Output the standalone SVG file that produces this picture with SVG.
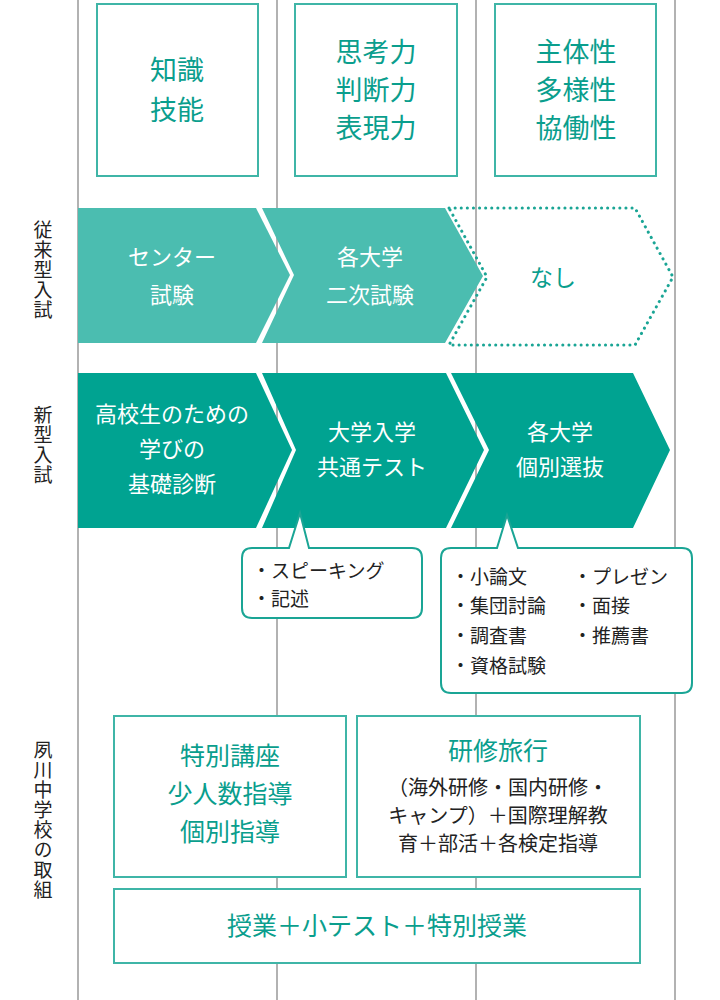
<svg xmlns="http://www.w3.org/2000/svg" width="720" height="1000" viewBox="0 0 720 1000">
<style>
text{font-family:"Noto Sans CJK JP","Noto Sans",sans-serif}
.vl{stroke:#999;stroke-width:1.5}
.box{fill:#fff;stroke:#3fb5a7;stroke-width:2}
.tt{fill:#0a9e8d;font-size:27px;text-anchor:middle}
.wt{fill:#fff;font-size:22px;text-anchor:middle}
.side{fill:#222;font-size:19px;writing-mode:vertical-rl;letter-spacing:1px}
.bl{fill:#222;font-size:19px}
.bt{fill:#0a9e8d;font-size:25px;text-anchor:middle}
.old{fill:#4bbdb0}
.new{fill:#00a391}
.co{fill:#fff;stroke:#1aa595;stroke-width:2}
</style>
<g id="gridlines">
<line class="vl" x1="78" y1="0" x2="78" y2="1000"/>
<line class="vl" x1="277" y1="0" x2="277" y2="1000"/>
<line class="vl" x1="476" y1="0" x2="476" y2="1000"/>
<line class="vl" x1="675" y1="0" x2="675" y2="1000"/>
</g>
<g id="head1"><rect class="box" x="97" y="4" width="161" height="172"/><text class="tt" x="177" y="80">知識</text><text class="tt" x="177" y="120">技能</text></g>
<g id="head2"><rect class="box" x="295" y="4" width="162" height="172"/><text class="tt" x="376" y="62">思考力</text><text class="tt" x="376" y="100">判断力</text><text class="tt" x="376" y="138">表現力</text></g>
<g id="head3"><rect class="box" x="495" y="4" width="161" height="172"/><text class="tt" x="576" y="62">主体性</text><text class="tt" x="576" y="100">多様性</text><text class="tt" x="576" y="138">協働性</text></g>
<g id="side-labels">
<text class="side" x="43" y="220">従来型入試</text>
<text class="side" x="43" y="405">新型入試</text>
<text class="side" x="43" y="740">夙川中学校の取組</text>
</g>
<g id="old1"><polygon class="old" points="78,208 256,208 290,275 256,343 78,343"/><text class="wt" x="172" y="265">センター</text><text class="wt" x="172" y="303">試験</text></g>
<g id="old2"><polygon class="old" points="262,208 445,208 483,276 445,343 262,343 294,275"/><text class="wt" x="370" y="265">各大学</text><text class="wt" x="370" y="303">二次試験</text></g>
<g id="old3"><polygon points="449,208 635,208 673,277 635,345 449,345 487,277" fill="none" stroke="#1aa595" stroke-width="3" stroke-dasharray="0.1 6" stroke-linecap="round"/><text x="553" y="286" fill="#0a9e8d" font-size="23" text-anchor="middle">なし</text></g>
<g id="new1"><polygon class="new" points="78,373 256,373 292,450 256,528 78,528"/><text class="wt" x="172" y="422">高校生のための</text><text class="wt" x="172" y="457">学びの</text><text class="wt" x="172" y="492">基礎診断</text></g>
<g id="new2"><polygon class="new" points="262,373 446,373 484,450 446,528 262,528 296,450"/><text class="wt" x="372" y="440">大学入学</text><text class="wt" x="372" y="475">共通テスト</text></g>
<g id="new3"><polygon class="new" points="451,373 633,373 670,450 633,528 451,528 489,450"/><text class="wt" x="560" y="440">各大学</text><text class="wt" x="560" y="475">個別選抜</text></g>
<g id="callout1"><path class="co" d="M252,548 H289 L300,513 L309,548 H412 Q422,548 422,558 V608 Q422,618 412,618 H252 Q242,618 242,608 V558 Q242,548 252,548 Z"/><text class="bl" x="252" y="578">・スピーキング</text><text class="bl" x="252" y="606">・記述</text></g>
<g id="callout2"><path class="co" d="M451,548 H497 L507,515 L518,548 H682 Q692,548 692,558 V683 Q692,693 682,693 H451 Q441,693 441,683 V558 Q441,548 451,548 Z"/><text class="bl" x="451" y="584">・小論文</text><text class="bl" x="451" y="613">・集団討論</text><text class="bl" x="451" y="643">・調査書</text><text class="bl" x="451" y="673">・資格試験</text><text class="bl" x="573" y="584">・プレゼン</text><text class="bl" x="573" y="613">・面接</text><text class="bl" x="573" y="643">・推薦書</text></g>
<g id="act1"><rect class="box" x="114" y="716" width="232" height="161"/><text class="bt" x="230" y="765">特別講座</text><text class="bt" x="230" y="803">少人数指導</text><text class="bt" x="230" y="841">個別指導</text></g>
<g id="act2"><rect class="box" x="357" y="716" width="283" height="161"/><text class="bt" x="498" y="760">研修旅行</text><text x="498" y="795" fill="#222" font-size="20" text-anchor="middle">（海外研修・国内研修・</text><text x="498" y="823" fill="#222" font-size="20" text-anchor="middle">キャンプ）＋国際理解教</text><text x="498" y="851" fill="#222" font-size="20" text-anchor="middle">育＋部活＋各検定指導</text></g>
<g id="act3"><rect class="box" x="114" y="889" width="526" height="74"/><text class="bt" x="377" y="935">授業＋小テスト＋特別授業</text></g>
<g id="connectors"></g>
</svg>
